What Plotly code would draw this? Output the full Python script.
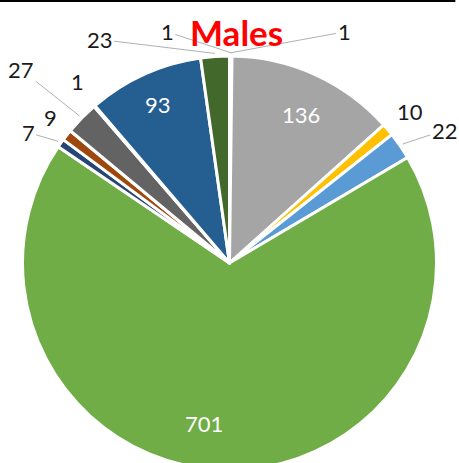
import math
import plotly.graph_objects as go

# ---- data ----
values = [1, 1, 136, 10, 22, 701, 7, 9, 27, 1, 93, 23]
slice_names = ["S1", "S2", "S3", "S4", "S5", "S6", "S7", "S8", "S9", "S10", "S11", "S12"]
title_text = "Males"

# ---- style ----
colors = ["#4472C4", "#ED7D31", "#A5A5A5", "#FFC000", "#5B9BD5", "#70AD47",
          "#264478", "#9E480E", "#636363", "#997300", "#255E91", "#43682B"]

W, H = 459, 470          # figure a bit taller than the window: the pie bottom is cropped
dom_y_top = 414 / H

fig = go.Figure(go.Pie(
    labels=slice_names, values=values, sort=False, direction="clockwise", rotation=0,
    marker=dict(colors=colors, line=dict(color="white", width=3)),
    textinfo="none", hoverinfo="label+value",
    domain=dict(x=[0, 1], y=[0, dom_y_top]), showlegend=False,
))

# pie geometry (pixels, from top-left)
R = min(W * 1.0, H * dom_y_top) / 2
CX = W / 2
CY = H - R

# per-label placement style: (kind, radius factor, dx, dy, leader line)
label_style = [
    ("out", 1.015, 114, -21, True),
    ("out", 1.015, -64, -21, True),
    ("in", 0.79, 4, 0, False),
    ("out", 1.015, 20, -16, False),
    ("out", 1.015, 42, -14, True),
    ("in", 0.80, -20, -5, False),
    ("out", 1.015, -30, -9, True),
    ("out", 1.015, -14, -16, False),
    ("out", 1.015, -58, -46, True),
    ("out", 1.015, -15, -22, False),
    ("in", 0.84, 0, 0, False),
    ("out", 1.015, -115, -14, True),
]

total = sum(values)
cum = 0.0
annotations = []
for v, (kind, rf, dx, dy, leader) in zip(values, label_style):
    mid = (cum + v / 2) / total * 2 * math.pi
    cum += v
    rr = R * rf
    px = CX + rr * math.sin(mid)
    py = CY - rr * math.cos(mid)
    xp, yp = px / W, 1 - py / H
    if kind == "in":
        annotations.append(dict(
            x=xp, y=yp, xref="paper", yref="paper", text=str(v), showarrow=False,
            xshift=dx, yshift=-dy, xanchor="center", yanchor="middle",
            font=dict(family="Lato", size=22, color="white")))
    else:
        annotations.append(dict(
            x=xp, y=yp, xref="paper", yref="paper", text=str(v), showarrow=True,
            ax=dx, ay=dy, arrowhead=0, arrowwidth=1, standoff=0, startstandoff=0,
            arrowcolor="#B0B0B0" if leader else "rgba(0,0,0,0)",
            font=dict(family="Lato", size=22, color="#1a1a1a")))

annotations.append(dict(
    x=236 / W, y=1 - 32 / H, xref="paper", yref="paper", text=title_text, showarrow=False,
    xanchor="center", yanchor="middle",
    font=dict(family="Lato", size=35, color="#FF0000", weight="bold")))

fig.update_layout(
    width=W, height=H, margin=dict(l=0, r=0, t=0, b=0),
    paper_bgcolor="white", plot_bgcolor="white",
    annotations=annotations,
    shapes=[dict(type="line", xref="paper", yref="paper", x0=0, x1=0.992,
                 y0=1 - 1 / H, y1=1 - 1 / H, line=dict(color="black", width=2))],
)

fig.write_html(
    "out.html",
    config={"displayModeBar": False},
    post_script="document.body.style.margin='0';document.body.style.overflow='hidden';",
)
